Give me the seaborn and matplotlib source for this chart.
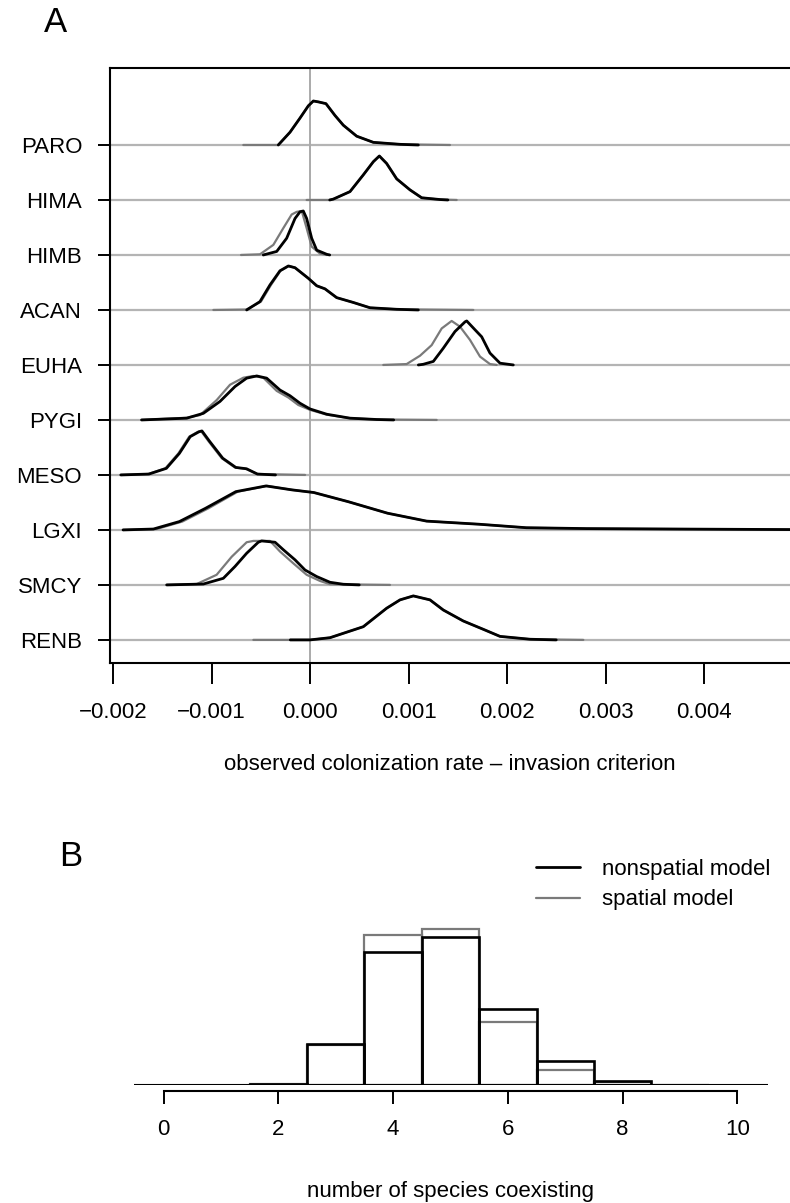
import matplotlib
matplotlib.use("Agg")
import matplotlib.pyplot as plt
import numpy as np
import pandas as pd
import seaborn as sns
from matplotlib.lines import Line2D

# ---------------- Panel A data (x in units of 0.001, h = density relative to its peak)
species = ["PARO", "HIMA", "HIMB", "ACAN", "EUHA", "PYGI", "MESO", "LGXI", "SMCY", "RENB"]

paro_nonspatial = [(-0.322, 0), (-0.203, 0.29), (-0.102, 0.61), (-0.017, 0.89), (0.034, 1.0), (0.084, 0.98),
                   (0.162, 0.94), (0.254, 0.67), (0.338, 0.45), (0.474, 0.20), (0.643, 0.06), (0.914, 0.015), (1.10, 0)]
paro_spatial = [(-0.677, 0), (-0.322, 0), (-0.203, 0.29), (-0.102, 0.61), (-0.017, 0.89), (0.034, 1.0), (0.084, 0.98),
                (0.162, 0.94), (0.254, 0.67), (0.338, 0.45), (0.474, 0.20), (0.643, 0.06), (0.914, 0.015), (1.421, 0)]

hima_nonspatial = [(0.20, 0), (0.237, 0.02), (0.406, 0.19), (0.541, 0.57), (0.643, 0.87), (0.704, 1.0), (0.778, 0.83),
                   (0.880, 0.48), (1.015, 0.23), (1.134, 0.05), (1.320, 0.01), (1.40, 0)]
hima_spatial = [(-0.034, 0), (0.20, 0), (0.237, 0.02), (0.406, 0.19), (0.541, 0.57), (0.643, 0.87), (0.704, 1.0),
                (0.778, 0.83), (0.880, 0.48), (1.015, 0.23), (1.134, 0.05), (1.320, 0.01), (1.489, 0)]

himb_nonspatial = [(-0.474, 0), (-0.338, 0.08), (-0.237, 0.38), (-0.152, 0.83), (-0.102, 0.98), (-0.068, 1.0),
                   (-0.034, 0.83), (0.017, 0.38), (0.068, 0.11), (0.170, 0.015), (0.20, 0)]
himb_spatial = [(-0.70, 0), (-0.508, 0.015), (-0.372, 0.23), (-0.271, 0.61), (-0.186, 0.92), (-0.135, 0.98),
                (-0.084, 1.0), (-0.034, 0.61), (0.017, 0.19), (0.102, 0.03), (0.17, 0)]

acan_nonspatial = [(-0.643, 0), (-0.508, 0.19), (-0.406, 0.57), (-0.305, 0.89), (-0.220, 1.0), (-0.152, 0.96),
                   (-0.017, 0.72), (0.068, 0.55), (0.152, 0.48), (0.271, 0.28), (0.440, 0.17), (0.609, 0.05),
                   (0.880, 0.015), (1.10, 0)]
acan_spatial = [(-0.981, 0), (-0.643, 0.01), (-0.498, 0.19), (-0.396, 0.57), (-0.300, 0.89), (-0.215, 1.0),
                (-0.152, 0.96), (-0.017, 0.72), (0.068, 0.55), (0.152, 0.48), (0.271, 0.28), (0.440, 0.17),
                (0.609, 0.05), (0.880, 0.015), (1.658, 0)]

euha_nonspatial = [(1.10, 0), (1.150, 0.015), (1.252, 0.08), (1.353, 0.38), (1.472, 0.76), (1.574, 0.98),
                   (1.591, 1.0), (1.675, 0.80), (1.743, 0.64), (1.827, 0.27), (1.929, 0.04), (2.064, 0)]
euha_spatial = [(0.744, 0), (0.981, 0.02), (1.117, 0.21), (1.235, 0.45), (1.337, 0.83), (1.438, 1.0), (1.523, 0.87),
                (1.624, 0.57), (1.726, 0.19), (1.827, 0.02), (1.895, 0)]

pygi_nonspatial = [(-1.71, 0), (-1.252, 0.04), (-1.083, 0.15), (-0.914, 0.42), (-0.761, 0.76), (-0.643, 0.95),
                   (-0.541, 1.0), (-0.440, 0.95), (-0.305, 0.68), (-0.203, 0.55), (-0.102, 0.38), (0.0, 0.25),
                   (0.170, 0.13), (0.406, 0.04), (0.677, 0.01), (0.85, 0)]
pygi_spatial = [(-1.71, 0), (-1.252, 0.05), (-1.117, 0.11), (-0.948, 0.45), (-0.812, 0.80), (-0.677, 0.96),
                (-0.575, 1.0), (-0.474, 0.96), (-0.338, 0.66), (-0.220, 0.51), (-0.119, 0.34), (0.0, 0.23),
                (0.170, 0.12), (0.406, 0.04), (0.677, 0.01), (1.286, 0)]

meso_nonspatial = [(-1.921, 0), (-1.635, 0.02), (-1.458, 0.15), (-1.326, 0.49), (-1.216, 0.87), (-1.128, 0.98),
                   (-1.097, 1.0), (-1.018, 0.76), (-0.886, 0.38), (-0.753, 0.17), (-0.644, 0.14), (-0.534, 0.02),
                   (-0.35, 0)]
meso_spatial = [(-1.921, 0), (-1.645, 0.02), (-1.468, 0.15), (-1.336, 0.49), (-1.226, 0.87), (-1.138, 0.98),
                (-1.107, 1.0), (-1.028, 0.76), (-0.896, 0.38), (-0.763, 0.17), (-0.654, 0.14), (-0.534, 0.02),
                (-0.05, 0)]

lgxi_nonspatial = [(-1.898, 0), (-1.590, 0.02), (-1.326, 0.19), (-1.062, 0.49), (-0.753, 0.87), (-0.446, 1.0),
                   (-0.182, 0.91), (0.039, 0.85), (0.391, 0.64), (0.787, 0.38), (1.184, 0.20), (1.712, 0.13),
                   (2.196, 0.05), (2.812, 0.03), (3.692, 0.02), (4.873, 0.008), (5.0, 0.007)]
lgxi_spatial = [(-1.898, 0), (-1.560, 0.02), (-1.296, 0.19), (-1.032, 0.49), (-0.733, 0.87), (-0.436, 1.0),
                (-0.182, 0.91), (0.039, 0.85), (0.391, 0.64), (0.787, 0.38), (1.184, 0.20), (1.712, 0.13),
                (2.196, 0.05), (2.812, 0.03), (3.692, 0.02), (4.873, 0.008), (5.0, 0.007)]

smcy_nonspatial = [(-1.455, 0), (-1.083, 0.02), (-0.880, 0.15), (-0.761, 0.42), (-0.643, 0.72), (-0.525, 0.97),
                   (-0.491, 1.0), (-0.355, 0.97), (-0.271, 0.80), (-0.152, 0.57), (-0.051, 0.34), (0.068, 0.19),
                   (0.203, 0.06), (0.338, 0.015), (0.50, 0)]
smcy_spatial = [(-1.455, 0), (-1.150, 0.02), (-0.948, 0.23), (-0.795, 0.64), (-0.643, 0.97), (-0.575, 1.0),
                (-0.406, 1.0), (-0.305, 0.76), (-0.169, 0.49), (-0.034, 0.23), (0.102, 0.09), (0.203, 0.015),
                (0.812, 0)]

renb_nonspatial = [(-0.2, 0), (0.0, 0.0), (0.203, 0.05), (0.541, 0.30), (0.778, 0.72), (0.914, 0.91), (1.049, 1.0),
                   (1.218, 0.91), (1.353, 0.68), (1.556, 0.43), (1.760, 0.24), (1.929, 0.08), (2.234, 0.015),
                   (2.5, 0)]
renb_spatial = [(-0.575, 0), (0.0, 0.0), (0.203, 0.05), (0.541, 0.30), (0.778, 0.72), (0.914, 0.91), (1.049, 1.0),
                (1.218, 0.91), (1.353, 0.68), (1.556, 0.43), (1.760, 0.24), (1.929, 0.08), (2.234, 0.015),
                (2.775, 0)]

xticks_a = [-0.002, -0.001, 0.000, 0.001, 0.002, 0.003, 0.004]
xticklabels_a = ["\u22120.002", "\u22120.001", "0.000", "0.001", "0.002", "0.003", "0.004"]

# ---------------- Panel B data
n_species = [2, 3, 4, 5, 6, 7, 8, 9]
freq_nonspatial = [0.003, 0.096, 0.312, 0.347, 0.178, 0.055, 0.009, 0.001]
freq_spatial = [0.003, 0.094, 0.350, 0.364, 0.147, 0.035, 0.007, 0.001]
xticks_b = [0, 2, 4, 6, 8, 10]

# ---------------- build tidy frame
curves = {
    "PARO": (paro_nonspatial, paro_spatial), "HIMA": (hima_nonspatial, hima_spatial),
    "HIMB": (himb_nonspatial, himb_spatial), "ACAN": (acan_nonspatial, acan_spatial),
    "EUHA": (euha_nonspatial, euha_spatial), "PYGI": (pygi_nonspatial, pygi_spatial),
    "MESO": (meso_nonspatial, meso_spatial), "LGXI": (lgxi_nonspatial, lgxi_spatial),
    "SMCY": (smcy_nonspatial, smcy_spatial), "RENB": (renb_nonspatial, renb_spatial),
}
rows = []
n = len(species)
for i, sp in enumerate(species):
    base = n - 1 - i
    for model, pts in zip(["nonspatial", "spatial"], curves[sp]):
        for k, (x, h) in enumerate(pts):
            rows.append(dict(species=sp, model=model, order=k, x=x * 1e-3, y=base + 0.8 * h))
df = pd.DataFrame(rows)

sns.set_theme(style="white")
plt.rcParams["font.family"] = ["Liberation Sans", "DejaVu Sans"]
plt.rcParams.update({"text.color": "black", "axes.labelcolor": "black",
                     "xtick.color": "black", "ytick.color": "black"})
FS = 16

W, H = 790, 1203
fig = plt.figure(figsize=(W / 100, H / 100), dpi=100)

# ---------------- Panel A
axA = fig.add_axes([110 / W, 1 - 663 / H, (790 - 110) / W, (663 - 68) / H])
px_per = 98.5
axA.set_xlim((110 - 310) / px_per * 1e-3, (790 - 310) / px_per * 1e-3)
axA.set_ylim(-0.42, 10.4)

for i in range(n):
    axA.axhline(i, color="#b4b4b4", lw=1.6, zorder=1)
axA.axvline(0, color="#aaaaaa", lw=1.4, zorder=1)

sns.lineplot(data=df[df.model == "spatial"], x="x", y="y", units="species", estimator=None, sort=False,
             color="#7a7a7a", lw=1.6, ax=axA, zorder=2, legend=False)
sns.lineplot(data=df[df.model == "nonspatial"], x="x", y="y", units="species", estimator=None, sort=False,
             color="black", lw=2.0, ax=axA, zorder=3, legend=False)

axA.set_yticks(range(n))
axA.set_yticklabels(species[::-1], fontsize=FS)
axA.set_xticks(xticks_a)
axA.set_xticklabels(xticklabels_a, fontsize=FS)
axA.tick_params(axis="x", direction="out", length=15, width=1.4, pad=13, colors="black", bottom=True)
axA.tick_params(axis="y", direction="out", length=9, width=1.4, pad=11, colors="black", left=True)
for s in ["left", "top", "bottom"]:
    axA.spines[s].set_visible(True)
    axA.spines[s].set_color("black")
    axA.spines[s].set_linewidth(1.5)
axA.spines["right"].set_visible(False)
axA.set_ylabel("")
axA.set_xlabel("observed colonization rate \u2013 invasion criterion", fontsize=FS)
axA.xaxis.set_label_coords(0.5, (663 - 765) / 595)
axA.xaxis.label.set_va("center")

fig.text(56 / W, 1 - 22 / H, "A", fontsize=25, ha="center", va="center")

# ---------------- Panel B
pxb = 57.36
x0b = 163.7
axB = fig.add_axes([134 / W, 1 - 1085 / H, (767.6 - 134) / W, (1085 - 830) / H])
sns.histplot(x=n_species, weights=freq_spatial, discrete=True, fill=False, element="bars",
             color="#7a7a7a", linewidth=1.6, ax=axB, zorder=2)
sns.histplot(x=n_species, weights=freq_nonspatial, discrete=True, fill=False, element="bars",
             color="black", linewidth=1.9, ax=axB, zorder=3)
axB.set_xlim((134 - x0b) / pxb, (767.6 - x0b) / pxb)
axB.set_ylim(0, (1085 - 830) / 427.6)
axB.axhline(0, color="black", lw=1.5, zorder=4)
for s in ["left", "top", "right"]:
    axB.spines[s].set_visible(False)
axB.spines["bottom"].set_visible(True)
axB.spines["bottom"].set_color("black")
axB.spines["bottom"].set_linewidth(1.5)
axB.spines["bottom"].set_position(("outward", 4.2))
axB.spines["bottom"].set_bounds(0, 10)
axB.set_yticks([])
axB.set_ylabel("")
axB.set_xticks(xticks_b)
axB.set_xticklabels([str(v) for v in xticks_b], fontsize=FS)
axB.tick_params(axis="x", direction="out", length=9, width=1.4, pad=11, colors="black", bottom=True)
axB.set_xlabel("number of species coexisting", fontsize=FS)
axB.xaxis.set_label_coords(0.5, (1085 - 1192) / 255)
axB.xaxis.label.set_va("center")

handles = [Line2D([], [], color="black", lw=2.0), Line2D([], [], color="#7a7a7a", lw=1.6)]
fig.legend(handles, ["nonspatial model", "spatial model"], loc="upper left",
           bbox_to_anchor=(536 / W, 1 - 859 / H), frameon=False, fontsize=FS,
           handlelength=2.0, handletextpad=0.95, labelspacing=0.42, borderpad=0, borderaxespad=0)

fig.text(71 / W, 1 - 857 / H, "B", fontsize=25, ha="center", va="center")

fig.savefig("out.png", dpi=100)
